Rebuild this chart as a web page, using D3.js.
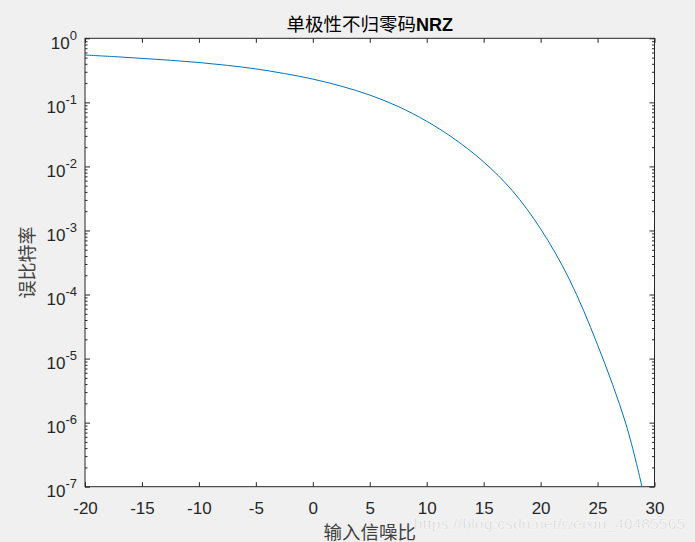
<!DOCTYPE html>
<meta charset="utf-8">
<style>

body {
  margin: 0;
  background: #f0f0f0;
  width: 695px;
  height: 542px;
  overflow: hidden;
}

.axis text {
  font-family: "Liberation Sans", Arial, sans-serif;
  font-size: 17px;
  fill: #262626;
}

.axis line {
  stroke: #262626;
}

.axis .domain {
  display: none;
}

.frame {
  fill: #fff;
  stroke: #262626;
  stroke-width: 1px;
}

.ber {
  fill: none;
  stroke: #0072bd;
  stroke-width: 1px;
}

.cjk {
  font-family: "Noto Sans CJK SC", sans-serif;
}

</style>
<body>
<script src="https://d3js.org/d3.v7.min.js"></script>
<script>

// 输入信噪比 (dB) and 误比特率
var snr = [-20, -17.5, -15, -12.5, -10, -7.5, -5, -2.5, 0, 2.5, 5, 7.5,
           10, 12.5, 15, 17.5, 20, 22.5, 25, 27.5, 28.9];
var ber = [0.548, 0.518, 0.486, 0.454, 0.419, 0.378, 0.333, 0.282, 0.231,
           0.179, 0.130, 0.0861, 0.0507, 0.0263, 0.01175, 0.00422, 0.00106,
           0.000176, 0.0000164, 0.000000944, 0.0000001];

var xTicks = [-20, -15, -10, -5, 0, 5, 10, 15, 20, 25, 30];
var yExponents = [0, -1, -2, -3, -4, -5, -6, -7];

var width = 695,
    height = 542;

var margin = {left: 85, right: 40.5, top: 38.3, bottom: 55.3};

var x = d3.scaleLinear()
    .domain([-20, 30])
    .range([margin.left, width - margin.right]);

var y = d3.scaleLog()
    .domain([1e-7, 1])
    .range([height - margin.bottom, margin.top]);

var svg = d3.select("body").append("svg")
    .attr("width", width)
    .attr("height", height);

svg.append("rect")
    .attr("class", "frame")
    .attr("x", x(-20))
    .attr("y", y(1))
    .attr("width", x(30) - x(-20))
    .attr("height", y(1e-7) - y(1));

svg.append("clipPath")
    .attr("id", "clip")
  .append("rect")
    .attr("x", x(-20))
    .attr("y", y(1))
    .attr("width", x(30) - x(-20))
    .attr("height", y(1e-7) - y(1));

var majors = yExponents.map(function(e) { return Math.pow(10, e); });
var minors = [];
yExponents.slice(1).forEach(function(e) {
  for (var k = 2; k <= 9; k++) minors.push(k * Math.pow(10, e));
});

// x axis, bottom and top
svg.append("g")
    .attr("class", "axis")
    .attr("transform", "translate(0," + y(1e-7) + ")")
    .call(d3.axisBottom(x).tickValues(xTicks).tickSize(-4.5).tickSizeOuter(0).tickPadding(15)
      .tickFormat(function(d) { return String(d); }));

svg.append("g")
    .attr("class", "axis")
    .attr("transform", "translate(0," + y(1) + ")")
    .call(d3.axisTop(x).tickValues(xTicks).tickSize(-4.5).tickSizeOuter(0).tickFormat(""));

// y axis, left and right, majors and minors
svg.append("g")
    .attr("class", "axis")
    .attr("transform", "translate(" + x(-20) + ",0)")
    .call(d3.axisLeft(y).tickValues(minors).tickSize(-2.5).tickSizeOuter(0).tickFormat(""));

svg.append("g")
    .attr("class", "axis")
    .attr("transform", "translate(" + x(30) + ",0)")
    .call(d3.axisRight(y).tickValues(minors).tickSize(-2.5).tickSizeOuter(0).tickFormat(""));

svg.append("g")
    .attr("class", "axis")
    .attr("transform", "translate(" + x(30) + ",0)")
    .call(d3.axisRight(y).tickValues(majors).tickSize(-5).tickSizeOuter(0).tickFormat(""));

var yAxis = svg.append("g")
    .attr("class", "axis")
    .attr("transform", "translate(" + x(-20) + ",0)")
    .call(d3.axisLeft(y).tickValues(majors).tickSize(-5).tickSizeOuter(0).tickFormat(""));

yAxis.selectAll(".tick").each(function(d) {
  var e = Math.round(Math.log10(d));
  var t = d3.select(this).select("text")
      .attr("x", -8)
      .attr("dy", null)
      .attr("y", 10)
      .attr("text-anchor", "end");
  t.append("tspan").text("10");
  t.append("tspan")
      .attr("dy", -9)
      .style("font-size", "13px")
      .text(String(e));
});

var line = d3.line()
    .x(function(d, i) { return x(snr[i]); })
    .y(function(d) { return y(d); })
    .curve(d3.curveCatmullRom.alpha(0.5));

svg.append("path")
    .datum(ber)
    .attr("class", "ber")
    .attr("clip-path", "url(#clip)")
    .attr("d", line);

// title
var title = svg.append("text")
    .attr("x", (x(-20) + x(30)) / 2)
    .attr("y", 31)
    .attr("text-anchor", "middle")
    .style("fill", "#000");

title.append("tspan")
    .attr("class", "cjk")
    .style("font-size", "18.5px")
    .text("单极性不归零码");

title.append("tspan")
    .style("font-family", "'Liberation Sans', Arial, sans-serif")
    .style("font-weight", "bold")
    .style("font-size", "18px")
    .text("NRZ");

// axis labels
svg.append("text")
    .attr("class", "cjk")
    .attr("transform", "translate(34," + ((y(1) + y(1e-7)) / 2) + ") rotate(-90)")
    .attr("text-anchor", "middle")
    .style("font-size", "18px")
    .style("fill", "#404040")
    .text("误比特率");

svg.append("text")
    .attr("class", "cjk")
    .attr("x", (x(-20) + x(30)) / 2)
    .attr("y", 539)
    .attr("text-anchor", "middle")
    .style("font-size", "18.5px")
    .style("fill", "#404040")
    .text("输入信噪比");

// watermark
svg.append("text")
    .attr("x", 414)
    .attr("y", 529)
    .style("font-family", "'Liberation Sans', Arial, sans-serif")
    .style("font-size", "15px")
    .style("fill", "#c4c4c4")
    .style("stroke", "#ffffff")
    .style("stroke-width", "0.5px")
    .attr("textLength", 271)
    .text("https://blog.csdn.net/weixin_40485565");

</script>
